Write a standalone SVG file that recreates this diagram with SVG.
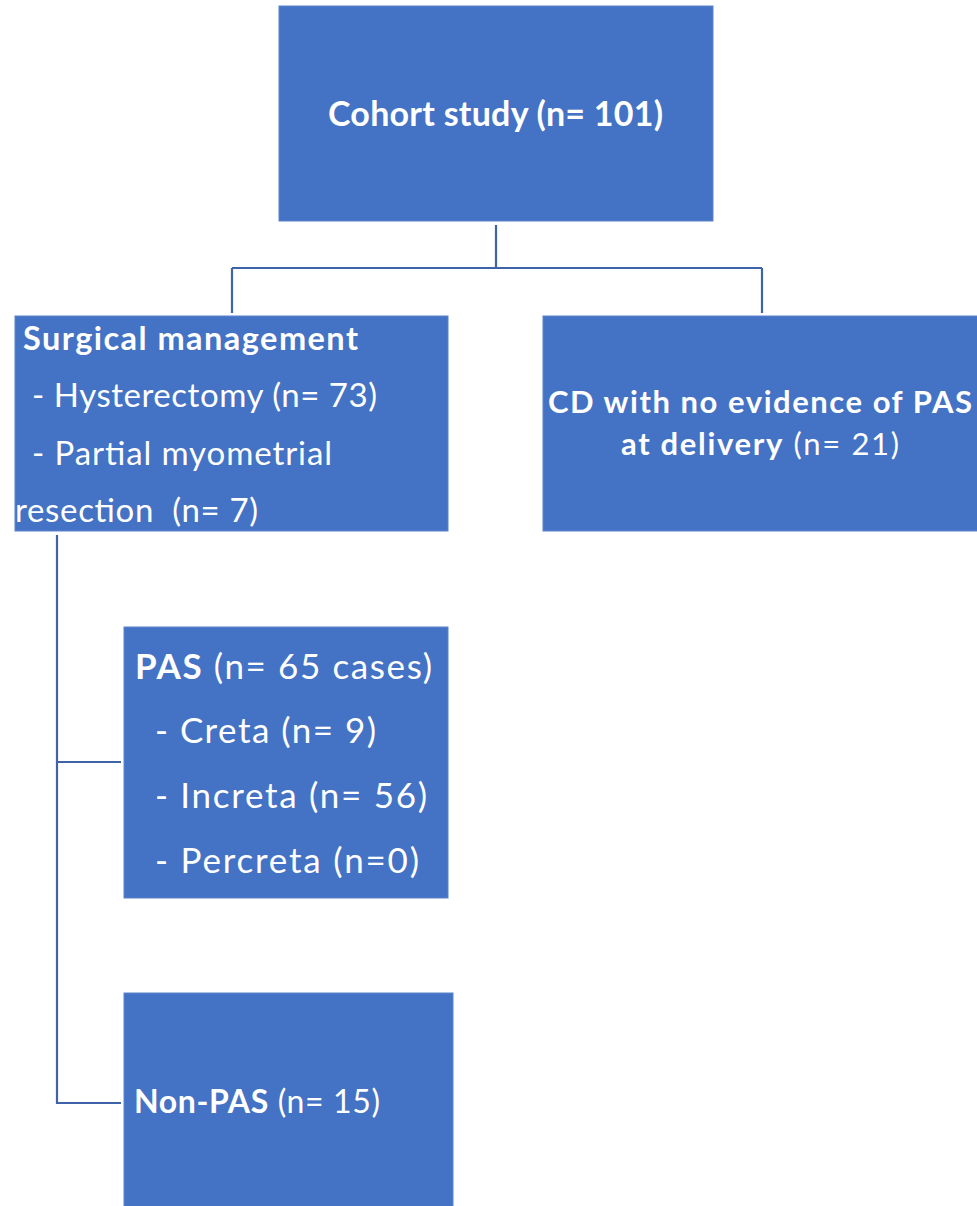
<svg xmlns="http://www.w3.org/2000/svg" width="977" height="1206" viewBox="0 0 977 1206">
<style>
.box{fill:#4472C4;stroke:#5B83CC;stroke-width:1}
.t{font-family:Lato,"Open Sans","Liberation Sans",sans-serif;fill:#ffffff}
.b{font-weight:bold}
.conn{fill:none;stroke:#3F63A8;stroke-width:2.2}
</style>
<rect width="977" height="1206" fill="#ffffff"/>
<g id="connectors">
<path class="conn" d="M496,225 V268 M232,268 H762 M232,268 V313 M762,268 V313"/>
<path class="conn" d="M57,535 V1103 H121 M57,762 H121"/>
</g>
<g id="cohort">
<rect class="box" x="279" y="6" width="434" height="215"/>
<text class="t b" x="328" y="126" font-size="34" textLength="335">Cohort study (n= 101)</text>
</g>
<g id="surgical">
<rect class="box" x="15" y="316" width="433" height="215"/>
<text class="t b" x="23" y="350" font-size="32.5" textLength="335">Surgical management</text>
<text class="t" x="32" y="407" font-size="33" textLength="345">- Hysterectomy (n= 73)</text>
<text class="t" x="32" y="465" font-size="33" textLength="300">- Partial myometrial</text>
<text class="t" x="15" y="522" font-size="33" textLength="243" xml:space="preserve">resection  (n= 7)</text>
</g>
<g id="cd">
<rect class="box" x="543" y="316" width="440" height="215"/>
<text class="t b" x="548" y="413" font-size="31" textLength="424">CD with no evidence of PAS</text>
<text class="t" x="621" y="455" font-size="31" textLength="278"><tspan class="b">at delivery</tspan> (n= 21)</text>
</g>
<g id="pas">
<rect class="box" x="124" y="627" width="324" height="271"/>
<text class="t" x="135" y="679" font-size="35" textLength="297"><tspan class="b">PAS</tspan> (n= 65 cases)</text>
<text class="t" x="155" y="743" font-size="35" textLength="221">- Creta (n= 9)</text>
<text class="t" x="155" y="808" font-size="35" textLength="272">- Increta (n= 56)</text>
<text class="t" x="155" y="873" font-size="35" textLength="264">- Percreta (n=0)</text>
</g>
<g id="nonpas">
<rect class="box" x="124" y="993" width="329" height="220"/>
<text class="t" x="134" y="1113" font-size="32" textLength="246"><tspan class="b">Non-PAS</tspan> (n= 15)</text>
</g>
</svg>
